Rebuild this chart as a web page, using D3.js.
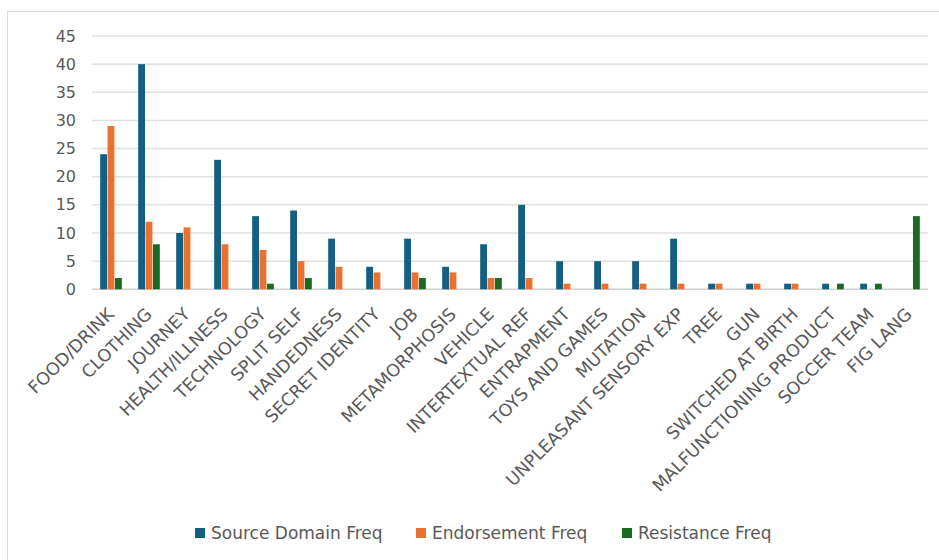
<!DOCTYPE html>
<html>
<head>
<meta charset="utf-8">
<script src="https://cdn.jsdelivr.net/npm/d3@7"></script>
<style>
  html, body { margin: 0; padding: 0; background: #fff; }
  svg { display: block; }
  text { font-family: "DejaVu Sans", Verdana, sans-serif; fill: #595959; }
</style>
</head>
<body>
<svg id="chart" width="939" height="560"></svg>
<script>
// Categories of metaphor source domains
const categories = [
  "FOOD/DRINK", "CLOTHING", "JOURNEY", "HEALTH/ILLNESS", "TECHNOLOGY",
  "SPLIT SELF", "HANDEDNESS", "SECRET IDENTITY", "JOB", "METAMORPHOSIS",
  "VEHICLE", "INTERTEXTUAL REF", "ENTRAPMENT", "TOYS AND GAMES", "MUTATION",
  "UNPLEASANT SENSORY EXP", "TREE", "GUN", "SWITCHED AT BIRTH",
  "MALFUNCTIONING PRODUCT", "SOCCER TEAM", "FIG LANG"
];

// Frequencies per series
const sourceDomainFreq = [24, 40, 10, 23, 13, 14, 9, 4, 9, 4, 8, 15, 5, 5, 5, 9, 1, 1, 1, 1, 1, 0];
const endorsementFreq  = [29, 12, 11, 8, 7, 5, 4, 3, 3, 3, 2, 2, 1, 1, 1, 1, 1, 1, 1, 0, 0, 0];
const resistanceFreq   = [2, 8, 0, 0, 1, 2, 0, 0, 2, 0, 2, 0, 0, 0, 0, 0, 0, 0, 0, 1, 1, 13];

const seriesNames = ["Source Domain Freq", "Endorsement Freq", "Resistance Freq"];
const seriesColors = ["#156082", "#E97132", "#196B24"];
const yTicks = [0, 5, 10, 15, 20, 25, 30, 35, 40, 45];

const seriesValues = [sourceDomainFreq, endorsementFreq, resistanceFreq];

const svg = d3.select("#chart");

// Chart frame
svg.append("rect")
  .attr("x", 7.5).attr("y", 11.5)
  .attr("width", 960).attr("height", 600)
  .attr("fill", "#fff")
  .attr("stroke", "#d9d9d9")
  .attr("stroke-width", 1);

const plotLeft = 92, plotRight = 928, plotTop = 36, plotBottom = 289.3;

const x0 = d3.scaleBand()
  .domain(categories)
  .range([plotLeft, plotRight])
  .paddingInner(0.43)
  .paddingOuter(0.215);

const x1 = d3.scaleBand()
  .domain(d3.range(seriesNames.length))
  .range([0, x0.bandwidth()])
  .paddingInner(0.08);

const y = d3.scaleLinear()
  .domain([0, 45])
  .range([plotBottom, plotTop]);

// Horizontal gridlines
svg.append("g")
  .selectAll("line")
  .data(yTicks)
  .join("line")
  .attr("x1", plotLeft).attr("x2", plotRight)
  .attr("y1", d => y(d)).attr("y2", d => y(d))
  .attr("stroke", d => d === 0 ? "#d0d0d0" : "#e0e0e0")
  .attr("stroke-width", 1.5);

// Y axis labels
const yAxis = d3.axisLeft(y).tickValues(yTicks).tickSize(0).tickPadding(0);
const yAxisG = svg.append("g")
  .attr("transform", `translate(${76},0)`)
  .call(yAxis);
yAxisG.select(".domain").remove();
yAxisG.selectAll("text")
  .attr("font-size", 16)
  .attr("font-family", "DejaVu Sans, sans-serif")
  .attr("fill", "#595959");

// Bars
const groups = svg.append("g")
  .selectAll("g")
  .data(categories)
  .join("g")
  .attr("transform", d => `translate(${x0(d)},0)`);

groups.selectAll("rect")
  .data((d, i) => seriesValues.map((vals, s) => ({ s, v: vals[i] })))
  .join("rect")
  .attr("x", d => x1(d.s))
  .attr("width", x1.bandwidth())
  .attr("y", d => y(d.v))
  .attr("height", d => plotBottom - y(d.v))
  .attr("fill", d => seriesColors[d.s]);

// Category labels, rotated
const xAxis = d3.axisBottom(x0).tickSize(0).tickPadding(0);
const xAxisG = svg.append("g")
  .attr("transform", `translate(0,${plotBottom})`)
  .call(xAxis);
xAxisG.select(".domain").remove();
xAxisG.selectAll("text")
  .attr("font-size", 17.5)
  .attr("font-family", "DejaVu Sans, sans-serif")
  .attr("fill", "#595959")
  .attr("text-anchor", "end")
  .attr("dy", null)
  .attr("y", 0)
  .attr("transform", "translate(4,26) rotate(-45)");

// Legend
const legendX = [195, 416, 622];
const legend = svg.append("g")
  .selectAll("g")
  .data(seriesNames)
  .join("g")
  .attr("transform", (d, i) => `translate(${legendX[i]},528)`);
legend.append("rect")
  .attr("width", 10).attr("height", 10)
  .attr("fill", (d, i) => seriesColors[i]);
legend.append("text")
  .attr("x", 16).attr("y", 10.5)
  .attr("font-size", 17)
  .text(d => d);
</script>
</body>
</html>
